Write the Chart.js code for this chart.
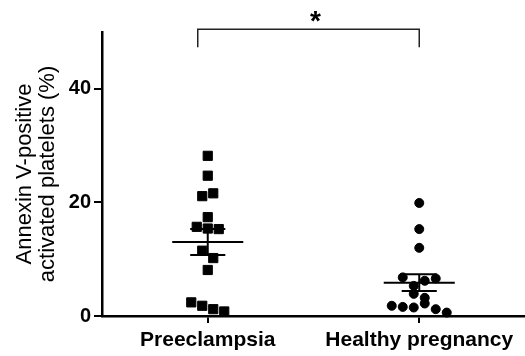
<!DOCTYPE html>
<html><head><meta charset="utf-8">
<script src="https://cdn.jsdelivr.net/npm/chart.js@4/dist/chart.umd.min.js"></script>
<style>html,body{margin:0;padding:0;background:#fff;overflow:hidden}canvas{display:block}</style>
</head><body>
<canvas id="c" width="525" height="356"></canvas>
<script>
// ---- data ----
const categories = ['Preeclampsia', 'Healthy pregnancy'];
const preeclampsia = [28.2, 24.7, 21.1, 21.6, 17.4, 15.7, 15.4, 15.3, 11.5, 10.2, 8.1, 2.4, 1.8, 1.2, 0.8];
const healthyPregnancy = [19.9, 15.3, 12.0, 6.8, 5.3, 6.2, 6.6, 3.9, 3.2, 1.8, 1.6, 1.5, 2.2, 1.2, 0.6];
const yTicks = [0, 20, 40];
const yTitle = ['Annexin V-positive', 'activated platelets (%)'];
const significanceLabel = '*';
const significanceLevel = 50.5;
const significanceTip = 47.3;

// ---- helpers ----
const FONT = "'Liberation Sans', Arial, sans-serif";
const STEP = 0.052;      // horizontal spacing of swarm points (x units)
const ROW = 1.9;         // values closer than this share a swarm row
function swarm(values, center) {
  const idx = values.map((v, i) => i).sort((a, b) => values[a] - values[b]);
  const rows = []; let cur = null;
  idx.forEach(i => {
    if (!cur || values[i] - values[cur[0]] > ROW) { cur = [i]; rows.push(cur); }
    else cur.push(i);
  });
  const pts = new Array(values.length);
  rows.forEach(r => {
    r.sort((a, b) => a - b);
    const n = r.length;
    r.forEach((i, k) => { pts[i] = { x: center + (k - (n - 1) / 2) * STEP, y: values[i] }; });
  });
  return pts;
}
function stats(v) {
  const n = v.length, m = v.reduce((a, b) => a + b, 0) / n;
  const sd = Math.sqrt(v.reduce((a, b) => a + (b - m) ** 2, 0) / (n - 1));
  return { m, sem: sd / Math.sqrt(n) };
}
function lineDs(points) {
  return { type: 'line', data: points, borderColor: '#000', borderWidth: 2, pointRadius: 0,
           showLine: true, fill: false, clip: false, order: 0 };
}

const groups = [
  { values: preeclampsia, style: 'rect', radius: 6.5 },
  { values: healthyPregnancy, style: 'circle', radius: 4.5 }
];
const datasets = [];
groups.forEach((g, gi) => {
  const c = gi + 1;
  datasets.push({ label: categories[gi], data: swarm(g.values, c), pointStyle: g.style,
    pointRadius: g.radius, pointHoverRadius: g.radius, backgroundColor: '#000', borderColor: '#000',
    borderWidth: 1, clip: false, order: 1 });
  const s = stats(g.values);
  datasets.push(lineDs([{ x: c - 0.168, y: s.m }, { x: c + 0.168, y: s.m }]));
  datasets.push(lineDs([{ x: c - 0.083, y: s.m + s.sem }, { x: c + 0.083, y: s.m + s.sem }]));
  datasets.push(lineDs([{ x: c - 0.083, y: s.m - s.sem }, { x: c + 0.083, y: s.m - s.sem }]));
  datasets.push(lineDs([{ x: c, y: s.m - s.sem }, { x: c, y: s.m + s.sem }]));
});

const bracketPlugin = {
  id: 'bracket',
  afterDatasetsDraw(chart) {
    const { ctx, scales: { x, y } } = chart;
    const x1 = x.getPixelForValue(1) - 10, x2 = x.getPixelForValue(2);
    const yt = y.getPixelForValue(significanceLevel), yb = y.getPixelForValue(significanceTip);
    ctx.save();
    ctx.strokeStyle = '#222'; ctx.lineWidth = 1.5;
    ctx.beginPath();
    ctx.moveTo(x1, yb); ctx.lineTo(x1, yt); ctx.lineTo(x2, yt); ctx.lineTo(x2, yb);
    ctx.stroke();
    ctx.fillStyle = '#000';
    ctx.font = 'bold 28px ' + FONT;
    ctx.textAlign = 'center'; ctx.textBaseline = 'alphabetic';
    ctx.fillText(significanceLabel, (x.getPixelForValue(1) + x2) / 2 + 2, yt + 1);
    ctx.restore();
  }
};

new Chart(document.getElementById('c'), {
  type: 'scatter',
  data: { datasets },
  plugins: [bracketPlugin],
  options: {
    responsive: false, animation: false,
    layout: { autoPadding: false, padding: { top: 32, right: 0, bottom: 0, left: 0 } },
    plugins: { legend: { display: false }, tooltip: { enabled: false } },
    scales: {
      x: {
        type: 'linear', min: 0.5, max: 2.5,
        afterBuildTicks: s => { s.ticks = categories.map((c, i) => ({ value: i + 1 })); },
        afterFit: s => { s.height = 40; s.paddingLeft = 0; s.paddingRight = 0; },
        ticks: { callback: v => categories[v - 1], color: '#000', font: { family: FONT, size: 21, weight: 'bold' },
                 padding: 5, maxRotation: 0, autoSkip: false },
        grid: { drawOnChartArea: false, drawTicks: true, tickLength: 7, color: '#000', lineWidth: 2 },
        border: { color: '#000', width: 2.5 }
      },
      y: {
        type: 'linear', min: 0, max: 50,
        afterBuildTicks: s => { s.ticks = yTicks.map(v => ({ value: v })); },
        afterFit: s => { s.width = 102; s.paddingTop = 0; s.paddingBottom = 0; },
        ticks: { color: '#000', font: { family: FONT, size: 20, weight: 'bold' }, padding: 3 },
        grid: { drawOnChartArea: false, drawTicks: true, tickLength: 8, color: '#000', lineWidth: 2 },
        border: { color: '#000', width: 2.5 },
        title: { display: true, text: yTitle, color: '#000', font: { family: FONT, size: 22, lineHeight: 1.05 },
                 padding: { top: 13, bottom: 0 } }
      }
    }
  }
});
</script>
</body></html>
